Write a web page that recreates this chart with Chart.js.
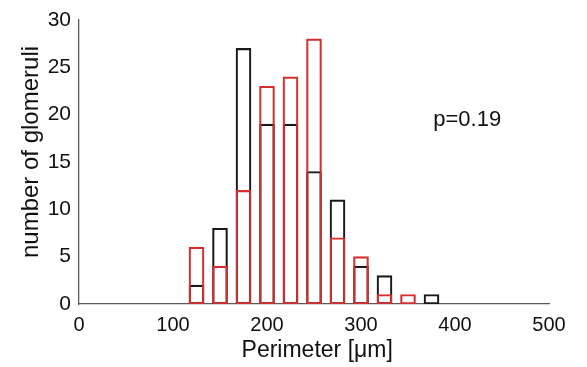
<!DOCTYPE html>
<html>
<head>
<meta charset="utf-8">
<script src="https://cdn.jsdelivr.net/npm/chart.js@4/dist/chart.umd.min.js"></script>
<style>
  html, body { margin: 0; padding: 0; background: #fff; }
  #wrap { width: 587px; height: 367px; }
</style>
</head>
<body>
<div id="wrap"><canvas id="hist"></canvas></div>
<script>
// ----- Data -----
const BIN_CENTERS = [125, 150, 175, 200, 225, 250, 275, 300, 325, 350, 375];
const RED_COUNTS   = [6, 4, 12, 23, 24, 28, 7, 5, 1, 1, 0];
const BLACK_COUNTS = [2, 8, 27, 19, 19, 14, 11, 4, 3, 0, 1];
const X_TICKS = [0, 100, 200, 300, 400, 500];
const Y_TICKS = [0, 5, 10, 15, 20, 25, 30];
const P_LABEL = 'p=0.19';

const FONT = 'Liberation Sans, Arial, sans-serif';
const AXIS_GREY = '#5a5a5a';
const toPoints = (vals) => BIN_CENTERS.map((x, i) => ({ x, y: vals[i] }));

// draws the p-value note in data coordinates
const pValuePlugin = {
  id: 'pValue',
  afterDatasetsDraw(chart) {
    const { ctx, scales } = chart;
    ctx.save();
    ctx.fillStyle = '#111';
    ctx.font = '22px ' + FONT;
    ctx.textAlign = 'center';
    ctx.textBaseline = 'middle';
    ctx.fillText(P_LABEL, scales.x.getPixelForValue(413), scales.y.getPixelForValue(19.4));
    ctx.restore();
  },
};

new Chart(document.getElementById('hist'), {
  type: 'bar',
  data: {
    datasets: [
      {
        label: 'red',
        data: toPoints(RED_COUNTS),
        backgroundColor: 'rgba(0,0,0,0)',
        borderColor: '#d42f2f',
        borderWidth: 1.5,
        borderSkipped: false,
        order: 0,
      },
      {
        label: 'black',
        data: toPoints(BLACK_COUNTS),
        backgroundColor: 'rgba(0,0,0,0)',
        borderColor: '#1a1a1a',
        borderWidth: 1.5,
        borderSkipped: false,
        order: 1,
      },
    ],
  },
  options: {
    responsive: true,
    maintainAspectRatio: false,
    animation: false,
    grouped: false,
    barThickness: 15,
    layout: { padding: { top: 20, right: 38, left: 0, bottom: 0 } },
    plugins: { legend: { display: false }, tooltip: { enabled: false } },
    scales: {
      x: {
        type: 'linear',
        min: 0,
        max: 500,
        offset: false,
        afterBuildTicks: (s) => { s.ticks = X_TICKS.map(v => ({ value: v })); },
        afterFit: (s) => { s.height = 63; },
        ticks: { color: '#111', font: { family: FONT, size: 20 }, padding: 5, maxRotation: 0 },
        grid: { display: false, drawTicks: true, tickLength: 4, tickColor: AXIS_GREY },
        border: { color: AXIS_GREY, width: 1.3 },
        title: {
          display: true,
          text: '\u00a0Perimeter [\u03bcm]',
          color: '#111',
          font: { family: FONT, size: 23 },
          padding: { top: 0, bottom: 3 },
        },
      },
      y: {
        min: 0,
        max: 30,
        afterBuildTicks: (s) => { s.ticks = Y_TICKS.map(v => ({ value: v })); },
        afterFit: (s) => { s.width = 79; },
        ticks: { color: '#111', font: { family: FONT, size: 21 }, padding: 4 },
        grid: { display: false, drawTicks: true, tickLength: 4, tickColor: AXIS_GREY },
        border: { color: AXIS_GREY, width: 1.3 },
        title: {
          display: true,
          text: '\u00a0\u00a0\u00a0number of glomeruli',
          color: '#111',
          font: { family: FONT, size: 24 },
          padding: { top: 17, bottom: 0 },
        },
      },
    },
  },
  plugins: [pValuePlugin],
});
</script>
</body>
</html>
